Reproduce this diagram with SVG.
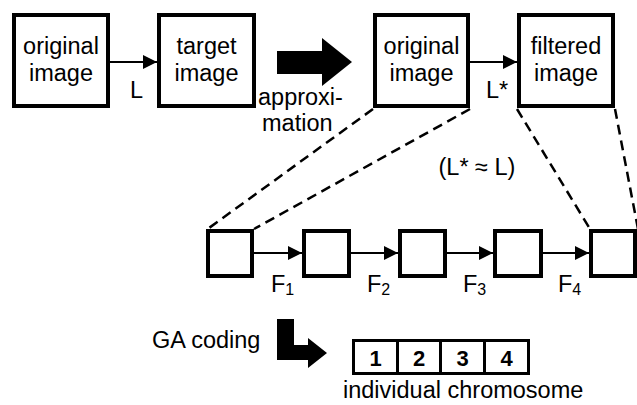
<svg xmlns="http://www.w3.org/2000/svg" width="637" height="405" viewBox="0 0 637 405">
<style>
.box{fill:#fff;stroke:#000;stroke-width:4}
.sbox{fill:#fff;stroke:#000;stroke-width:4}
.t{font-family:"Liberation Sans",Arial,sans-serif;font-size:23.5px;fill:#000}
.c{text-anchor:middle}
.sub{font-size:16px}
.b{font-weight:bold;font-size:22px}
.con{stroke:#000;stroke-width:2;fill:none;marker-end:url(#ah)}
.dash{stroke:#000;stroke-width:2.5;fill:none;stroke-dasharray:10 6}
</style>
<defs>
<marker id="ah" viewBox="0 0 14 14" refX="14" refY="7" markerWidth="14" markerHeight="14" markerUnits="userSpaceOnUse" orient="auto">
<path d="M0,0 L14,7 L0,14 z" fill="#000"/>
</marker>
</defs>
<rect width="637" height="405" fill="#fff"/>
<g id="connectors">
<line class="con" x1="110" y1="62" x2="157" y2="62"/>
<line class="con" x1="470" y1="62" x2="517" y2="62"/>
<line class="con" x1="254" y1="253" x2="302" y2="253"/>
<line class="con" x1="351" y1="253" x2="398" y2="253"/>
<line class="con" x1="447" y1="253" x2="493" y2="253"/>
<line class="con" x1="543" y1="253" x2="589" y2="253"/>
<line class="dash" x1="373" y1="109" x2="209" y2="228"/>
<line class="dash" x1="470" y1="109" x2="254" y2="229"/>
<line class="dash" x1="517" y1="109" x2="590" y2="229"/>
<line class="dash" x1="615" y1="109" x2="638" y2="229"/>
<text class="t" x="130" y="98">L</text>
<text class="t" x="486" y="98">L*</text>
<text class="t" x="271" y="292">F<tspan class="sub" dy="3">1</tspan></text>
<text class="t" x="367" y="292">F<tspan class="sub" dy="3">2</tspan></text>
<text class="t" x="463" y="292">F<tspan class="sub" dy="3">3</tspan></text>
<text class="t" x="558" y="292">F<tspan class="sub" dy="3">4</tspan></text>
</g>
<g id="n-original1">
<rect class="box" x="14" y="15" width="94" height="91"/>
<text class="t c" x="61" y="54">original</text>
<text class="t c" x="61" y="81">image</text>
</g>
<g id="n-target">
<rect class="box" x="159" y="15" width="95" height="91"/>
<text class="t c" x="206.5" y="54">target</text>
<text class="t c" x="206.5" y="81">image</text>
</g>
<g id="n-approx">
<path d="M277,51 L322,51 L322,38 L352,62 L322,86 L322,74 L277,74 z" fill="#000"/>
<text class="t" x="258" y="105">approxi-</text>
<text class="t" x="262" y="131">mation</text>
</g>
<g id="n-original2">
<rect class="box" x="375" y="15" width="93" height="91"/>
<text class="t c" x="421.5" y="54">original</text>
<text class="t c" x="421.5" y="81">image</text>
</g>
<g id="n-filtered">
<rect class="box" x="519" y="15" width="94" height="91"/>
<text class="t c" x="566" y="54">filtered</text>
<text class="t c" x="566" y="81">image</text>
</g>
<g id="n-approxeq">
<text class="t c" x="477" y="175">(L* ≈ L)</text>
</g>
<g id="n-f0"><rect class="sbox" x="208" y="231" width="44" height="45"/></g>
<g id="n-f1"><rect class="sbox" x="304" y="231" width="45" height="45"/></g>
<g id="n-f2"><rect class="sbox" x="400" y="231" width="45" height="45"/></g>
<g id="n-f3"><rect class="sbox" x="495" y="231" width="46" height="45"/></g>
<g id="n-f4"><rect class="sbox" x="591" y="231" width="44" height="45"/></g>
<g id="n-gacoding">
<text class="t" x="152" y="348">GA coding</text>
<path d="M277,319 L294,319 L294,345 L308,345 L308,338 L327,353 L308,368 L308,360 L277,360 z" fill="#000"/>
</g>
<g id="n-chromosome">
<rect x="353.5" y="340.5" width="175" height="33" fill="#fff" stroke="#000" stroke-width="3"/>
<line x1="397.5" y1="340" x2="397.5" y2="374" stroke="#000" stroke-width="3"/>
<line x1="440.5" y1="340" x2="440.5" y2="374" stroke="#000" stroke-width="3"/>
<line x1="484.5" y1="340" x2="484.5" y2="374" stroke="#000" stroke-width="3"/>
<text class="t c b" x="375.5" y="366">1</text>
<text class="t c b" x="419" y="366">2</text>
<text class="t c b" x="462.5" y="366">3</text>
<text class="t c b" x="506.5" y="366">4</text>
<text class="t" x="343" y="398">individual chromosome</text>
</g>
</svg>
